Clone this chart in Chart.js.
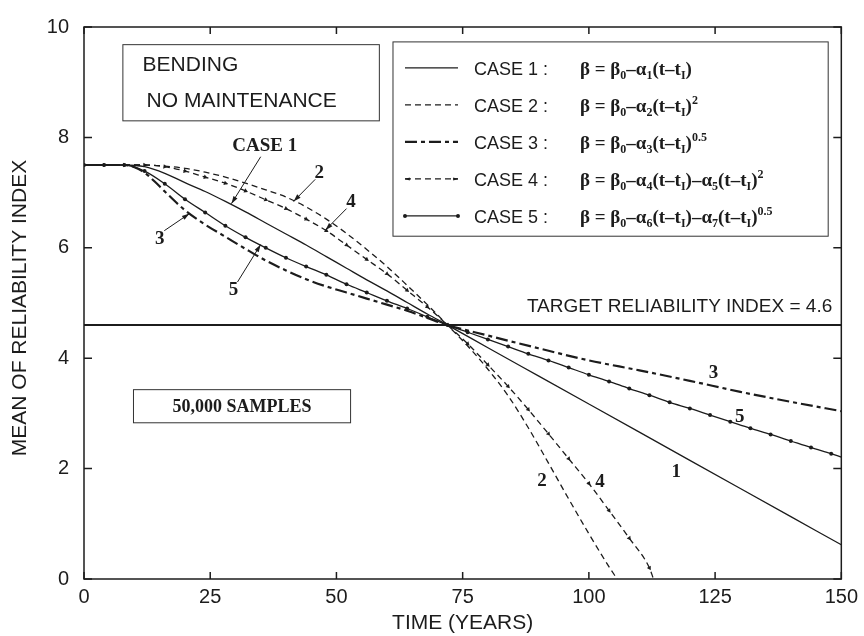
<!DOCTYPE html>
<html lang="en">
<head>
<meta charset="UTF-8">
<title>Mean of reliability index - bending, no maintenance</title>
<script src="https://cdn.jsdelivr.net/npm/chart.js"></script>
<style>
    html, body {
        margin: 0;
        padding: 0;
        background: #fff;
    }
</style>
</head>
<body>
<canvas id="relChart" width="864" height="636"></canvas>

<script>
    // values (time in years, mean reliability index)
    const case1Years = [0, 4, 8, 12, 16, 20, 24, 28, 32, 36, 40, 44, 48, 52, 56, 60, 64, 68, 72, 80, 90, 100, 110, 120, 130, 140, 150];
    const case1Beta  = [7.5, 7.5, 7.5, 7.47, 7.35, 7.18, 7.02, 6.84, 6.65, 6.45, 6.25, 6.05, 5.84, 5.63, 5.42, 5.22, 5.01, 4.8, 4.6, 4.19, 3.68, 3.17, 2.66, 2.15, 1.64, 1.13, 0.62];

    const case2Years = [0, 4, 8, 12, 16, 20, 24, 28, 32, 36, 40, 44, 48, 52, 56, 60, 64, 68, 72, 76, 80, 84, 88, 92, 96, 100, 104, 105.6];
    const case2Beta  = [7.5, 7.5, 7.5, 7.5, 7.48, 7.44, 7.37, 7.28, 7.17, 7.05, 6.92, 6.74, 6.52, 6.26, 5.97, 5.66, 5.32, 4.97, 4.6, 4.22, 3.8, 3.32, 2.74, 2.1, 1.45, 0.82, 0.22, 0];

    const case3Years = [0, 4, 8, 10, 12, 14, 16, 20, 24, 28, 32, 36, 40, 44, 48, 52, 56, 60, 64, 68, 72, 80, 90, 100, 110, 120, 130, 140, 150];
    const case3Beta  = [7.5, 7.5, 7.5, 7.46, 7.36, 7.2, 7.02, 6.68, 6.42, 6.2, 5.98, 5.77, 5.59, 5.43, 5.3, 5.19, 5.08, 4.97, 4.86, 4.73, 4.6, 4.41, 4.18, 3.96, 3.78, 3.59, 3.39, 3.21, 3.04];

    const case4Years = [0, 4, 8, 12, 16, 20, 24, 28, 32, 36, 40, 44, 48, 52, 56, 60, 64, 68, 72, 76, 80, 84, 88, 92, 96, 100, 104, 108, 112, 112.8];
    const case4Beta  = [7.5, 7.5, 7.5, 7.5, 7.47, 7.39, 7.28, 7.17, 7.03, 6.87, 6.71, 6.52, 6.31, 6.05, 5.79, 5.53, 5.23, 4.93, 4.6, 4.26, 3.88, 3.49, 3.07, 2.63, 2.18, 1.73, 1.24, 0.74, 0.2, 0];

    const case5Years = [0, 4, 8, 12, 16, 20, 24, 28, 32, 36, 40, 44, 48, 52, 56, 60, 64, 68, 72, 76, 80, 84, 88, 92, 96, 100, 104, 108, 112, 116, 120, 124, 128, 132, 136, 140, 144, 148, 150];
    const case5Beta  = [7.5, 7.5, 7.5, 7.39, 7.16, 6.88, 6.64, 6.4, 6.19, 6.0, 5.82, 5.66, 5.51, 5.34, 5.19, 5.04, 4.9, 4.75, 4.6, 4.47, 4.34, 4.21, 4.08, 3.96, 3.83, 3.7, 3.58, 3.45, 3.33, 3.2, 3.09, 2.97, 2.85, 2.73, 2.62, 2.5, 2.38, 2.27, 2.21];

    const targetBeta = 4.6;
    const xTickValues = [0, 25, 50, 75, 100, 125, 150];
    const yTickValues = [0, 2, 4, 6, 8, 10];

    const caseNames = ['CASE 1', 'CASE 2', 'CASE 3', 'CASE 4', 'CASE 5'];
    // [text, n | sub | sup]
    const caseEquations = [
        [['β = β', 'n'], ['0', 'sub'], ['–α', 'n'], ['1', 'sub'], ['(t–t', 'n'], ['I', 'sub'], [')', 'n']],
        [['β = β', 'n'], ['0', 'sub'], ['–α', 'n'], ['2', 'sub'], ['(t–t', 'n'], ['I', 'sub'], [')', 'n'], ['2', 'sup']],
        [['β = β', 'n'], ['0', 'sub'], ['–α', 'n'], ['3', 'sub'], ['(t–t', 'n'], ['I', 'sub'], [')', 'n'], ['0.5', 'sup']],
        [['β = β', 'n'], ['0', 'sub'], ['–α', 'n'], ['4', 'sub'], ['(t–t', 'n'], ['I', 'sub'], [')–α', 'n'], ['5', 'sub'], ['(t–t', 'n'], ['I', 'sub'], [')', 'n'], ['2', 'sup']],
        [['β = β', 'n'], ['0', 'sub'], ['–α', 'n'], ['6', 'sub'], ['(t–t', 'n'], ['I', 'sub'], [')–α', 'n'], ['7', 'sub'], ['(t–t', 'n'], ['I', 'sub'], [')', 'n'], ['0.5', 'sup']]
    ];

    const INK = '#1c1c1c';
    const SANS = '"Liberation Sans", Arial, sans-serif';
    const SERIF = '"Liberation Serif", "Times New Roman", serif';

    const toPoints = (xs, ys) => xs.map((x, i) => ({ x: x, y: ys[i] }));
    const onMarkerYear = ctx => ctx.raw && ctx.raw.x % 4 === 0;

    // small arrowheads on case 4 follow the direction of the curve
    function headingDeg(ctx) {
        const chart = ctx.chart, d = ctx.dataset.data, i = ctx.dataIndex;
        if (!chart.scales.x || !d[i]) return 0;
        const a = d[Math.max(i - 1, 0)], b = d[Math.min(i + 1, d.length - 1)];
        const dx = chart.scales.x.getPixelForValue(b.x) - chart.scales.x.getPixelForValue(a.x);
        const dy = chart.scales.y.getPixelForValue(b.y) - chart.scales.y.getPixelForValue(a.y);
        return Math.atan2(dy, dx) * 180 / Math.PI + 90;
    }

    // curve labels and arrows, in data units (years, beta)
    const curveLabels = [
        { text: 'CASE 1', x: 35.8, y: 7.84 },
        { text: '2', x: 46.6, y: 7.35 },
        { text: '4', x: 52.9, y: 6.83 },
        { text: '3', x: 15.0, y: 6.16 },
        { text: '5', x: 29.6, y: 5.24 },
        { text: '3', x: 124.7, y: 3.73 },
        { text: '5', x: 129.9, y: 2.93 },
        { text: '1', x: 117.3, y: 1.93 },
        { text: '2', x: 90.7, y: 1.78 },
        { text: '4', x: 102.2, y: 1.75 }
    ];
    const curveArrows = [
        [35.0, 7.65, 29.2, 6.80],
        [45.8, 7.24, 41.5, 6.84],
        [52.0, 6.71, 47.8, 6.32],
        [15.9, 6.31, 20.9, 6.62],
        [30.4, 5.38, 35.0, 6.06]
    ];

    function drawRich(ctx, parts, x, y, size) {
        let cx = x;
        parts.forEach(([t, kind]) => {
            const fs = kind === 'n' ? size : Math.round(size * 0.64);
            const dy = kind === 'sub' ? size * 0.22 : (kind === 'sup' ? -size * 0.4 : 0);
            ctx.font = 'bold ' + fs + 'px ' + SERIF;
            ctx.fillText(t, cx, y + dy);
            cx += ctx.measureText(t).width;
        });
    }

    function arrow(ctx, x1, y1, x2, y2, len) {
        const L = len || 8;
        const ang = Math.atan2(y2 - y1, x2 - x1);
        ctx.beginPath();
        ctx.moveTo(x1, y1);
        ctx.lineTo(x2, y2);
        ctx.stroke();
        ctx.beginPath();
        ctx.moveTo(x2, y2);
        ctx.lineTo(x2 - L * Math.cos(ang - 0.3), y2 - L * Math.sin(ang - 0.3));
        ctx.lineTo(x2 - L * Math.cos(ang + 0.3), y2 - L * Math.sin(ang + 0.3));
        ctx.closePath();
        ctx.fill();
    }

    const decorations = {
        id: 'decorations',
        afterDatasetsDraw(chart) {
            const ctx = chart.ctx;
            const xs = chart.scales.x, ys = chart.scales.y;
            const px = v => xs.getPixelForValue(v);
            const py = v => ys.getPixelForValue(v);
            const area = chart.chartArea;

            ctx.save();
            ctx.strokeStyle = INK;
            ctx.fillStyle = INK;

            // frame with inward ticks
            ctx.lineWidth = 1.5;
            ctx.strokeRect(area.left, area.top, area.right - area.left, area.bottom - area.top);
            ctx.beginPath();
            xTickValues.forEach(v => {
                ctx.moveTo(px(v), area.bottom); ctx.lineTo(px(v), area.bottom - 7);
                ctx.moveTo(px(v), area.top); ctx.lineTo(px(v), area.top + 7);
            });
            yTickValues.forEach(v => {
                ctx.moveTo(area.left, py(v)); ctx.lineTo(area.left + 8, py(v));
                ctx.moveTo(area.right, py(v)); ctx.lineTo(area.right - 8, py(v));
            });
            ctx.stroke();

            // y axis title
            ctx.save();
            ctx.translate(20, 308);
            ctx.rotate(-Math.PI / 2);
            ctx.font = '21px ' + SANS;
            ctx.textAlign = 'center';
            ctx.textBaseline = 'middle';
            ctx.fillText('MEAN OF RELIABILITY INDEX', 0, 0);
            ctx.restore();

            // BENDING box
            ctx.lineWidth = 1;
            ctx.strokeStyle = '#333';
            ctx.strokeRect(px(7.7), py(9.68), px(58.5) - px(7.7), py(8.3) - py(9.68));
            ctx.font = '21px ' + SANS;
            ctx.textAlign = 'left';
            ctx.textBaseline = 'middle';
            ctx.fillText('BENDING', px(11.6), py(9.31));
            ctx.fillText('NO MAINTENANCE', px(12.4), py(8.65));

            // samples box
            ctx.strokeRect(px(9.8), py(3.43), px(52.8) - px(9.8), py(2.83) - py(3.43));
            ctx.font = 'bold 18px ' + SERIF;
            ctx.textAlign = 'center';
            ctx.fillText('50,000 SAMPLES', px(31.3), py(3.13) + 1);

            // target label
            ctx.font = '19px ' + SANS;
            ctx.textAlign = 'right';
            ctx.fillText('TARGET RELIABILITY INDEX = 4.6', px(148.2), py(4.94));

            // curve labels and arrows
            ctx.font = 'bold 19px ' + SERIF;
            ctx.textAlign = 'center';
            curveLabels.forEach(l => ctx.fillText(l.text, px(l.x), py(l.y)));
            ctx.lineWidth = 1;
            ctx.strokeStyle = INK;
            curveArrows.forEach(a => arrow(ctx, px(a[0]), py(a[1]), px(a[2]), py(a[3])));

            // legend
            const lx = px(61.2), ly = py(9.73);
            ctx.strokeStyle = '#333';
            ctx.strokeRect(lx, ly, px(147.4) - lx, py(6.21) - ly);
            ctx.strokeStyle = INK;
            caseNames.forEach((name, i) => {
                const rowY = ly + 26 + i * 37;
                const sx1 = lx + 12, sx2 = lx + 65;
                const ds = chart.data.datasets[i];
                ctx.save();
                ctx.lineWidth = ds.borderWidth;
                ctx.setLineDash(ds.borderDash || []);
                ctx.beginPath();
                ctx.moveTo(sx1, rowY);
                ctx.lineTo(sx2, rowY);
                ctx.stroke();
                ctx.restore();
                if (i === 4) {
                    ctx.beginPath(); ctx.arc(sx1, rowY, 2, 0, 2 * Math.PI); ctx.fill();
                    ctx.beginPath(); ctx.arc(sx2, rowY, 2, 0, 2 * Math.PI); ctx.fill();
                }
                if (i === 3) {
                    arrow(ctx, sx1 + 5, rowY, sx1, rowY, 5);
                    arrow(ctx, sx2 - 5, rowY, sx2, rowY, 5);
                }
                ctx.font = '18px ' + SANS;
                ctx.textAlign = 'left';
                ctx.textBaseline = 'alphabetic';
                ctx.fillText(name + ' :', lx + 81, rowY + 7);
                drawRich(ctx, caseEquations[i], lx + 187, rowY + 7, 19);
                ctx.textBaseline = 'middle';
            });

            ctx.restore();
        }
    };

    const lineStyle = {
        borderColor: INK,
        backgroundColor: INK,
        pointRadius: 0,
        pointHoverRadius: 0,
        pointBorderWidth: 0,
        fill: false,
        cubicInterpolationMode: 'monotone'
    };

    const config = {
        type: 'line',
        data: {
            datasets: [
                Object.assign({}, lineStyle, { label: 'CASE 1', data: toPoints(case1Years, case1Beta), borderWidth: 1.3 }),
                Object.assign({}, lineStyle, { label: 'CASE 2', data: toPoints(case2Years, case2Beta), borderWidth: 1.3, borderDash: [6, 4] }),
                Object.assign({}, lineStyle, { label: 'CASE 3', data: toPoints(case3Years, case3Beta), borderWidth: 2.2, borderDash: [12, 4, 4, 4] }),
                Object.assign({}, lineStyle, {
                    label: 'CASE 4', data: toPoints(case4Years, case4Beta), borderWidth: 1.3, borderDash: [6, 4],
                    pointStyle: 'triangle', pointRadius: c => onMarkerYear(c) ? 2.6 : 0, pointRotation: headingDeg
                }),
                Object.assign({}, lineStyle, { label: 'CASE 5', data: toPoints(case5Years, case5Beta), borderWidth: 1.3, pointRadius: c => onMarkerYear(c) ? 2 : 0 }),
                Object.assign({}, lineStyle, { label: 'TARGET', data: [{ x: 0, y: targetBeta }, { x: 150, y: targetBeta }], borderWidth: 2, cubicInterpolationMode: 'default' })
            ]
        },
        options: {
            responsive: false,
            animation: false,
            layout: { padding: { top: 14, right: 18, left: 0, bottom: 0 } },
            plugins: {
                legend: { display: false },
                tooltip: { enabled: false }
            },
            scales: {
                x: {
                    type: 'linear',
                    min: 0,
                    max: 150,
                    afterBuildTicks: s => { s.ticks = xTickValues.map(v => ({ value: v })); },
                    afterFit: s => { s.height = 57; },
                    grid: { drawOnChartArea: false, drawTicks: false },
                    border: { display: false },
                    ticks: { color: INK, padding: 6, font: { size: 20, family: SANS } },
                    title: { display: true, text: 'TIME (YEARS)', color: INK, padding: 0, font: { size: 21, family: SANS } }
                },
                y: {
                    type: 'linear',
                    min: 0,
                    max: 10,
                    afterBuildTicks: s => { s.ticks = yTickValues.map(v => ({ value: v })); },
                    afterFit: s => { s.width = 84; },
                    grid: { drawOnChartArea: false, drawTicks: false },
                    border: { display: false },
                    ticks: { color: INK, padding: 15, font: { size: 20, family: SANS } }
                }
            }
        },
        plugins: [decorations]
    };

    const ctx = document.getElementById('relChart').getContext('2d');
    const relChart = new Chart(ctx, config);
</script>
</body>
</html>
